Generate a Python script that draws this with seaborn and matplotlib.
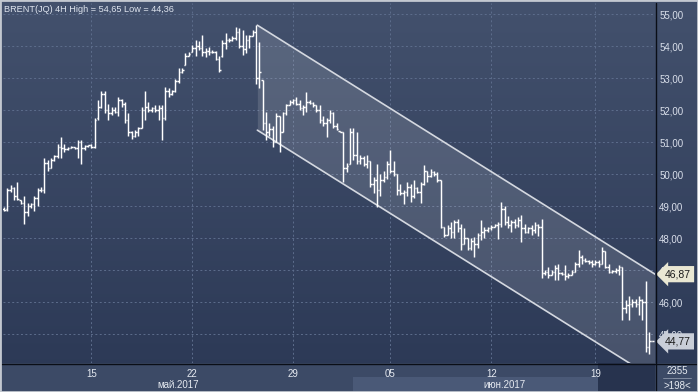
import matplotlib
matplotlib.use("Agg")
import matplotlib.pyplot as plt
import numpy as np
import pandas as pd
import seaborn as sns
from matplotlib.patches import Rectangle
from matplotlib.transforms import blended_transform_factory

# 4H bars, Brent, mid May - late June 2017
bar_open = [
    48.90, 48.90, 49.50, 49.55, 49.30, 49.20, 49.10, 48.80, 49.00, 49.05,
    49.25, 49.50, 49.50, 50.35, 50.20, 50.45, 50.55, 50.85, 50.80, 50.78,
    50.82, 50.85, 50.80, 51.00, 50.80, 50.88, 50.90, 50.85, 51.75, 52.10,
    52.50, 52.00, 51.90, 52.00, 51.95, 52.30, 52.20, 51.70, 51.30, 51.20,
    51.30, 51.45, 52.00, 52.10, 52.00, 52.05, 52.00, 52.05, 51.75, 52.60,
    52.50, 52.58, 52.90, 53.20, 53.40, 53.70, 53.80, 53.95, 54.00, 53.95,
    53.80, 53.85, 53.80, 53.82, 53.60, 53.70, 54.10, 54.20, 54.18, 54.25,
    54.45, 54.00, 53.90, 54.20, 54.30, 54.45, 53.00, 52.95, 51.60, 51.30,
    51.40, 51.00, 51.80, 51.30, 51.90, 52.15, 52.25, 52.30, 52.20, 52.05,
    52.10, 52.25, 52.22, 52.15, 52.00, 51.70, 51.60, 51.70, 51.90, 51.50,
    51.35, 51.32, 50.20, 50.30, 51.30, 50.60, 50.40, 50.50, 50.30, 50.40,
    49.70, 49.80, 49.50, 49.80, 49.90, 50.30, 50.10, 50.00, 49.50, 49.40,
    49.45, 49.60, 49.30, 49.55, 49.45, 49.70, 50.10, 49.95, 50.05, 50.00,
    49.80, 48.35, 48.10, 48.30, 48.20, 48.50, 48.30, 47.80, 48.00, 47.70,
    47.90, 47.80, 48.10, 48.20, 48.25, 48.30, 48.35, 48.40, 48.45, 48.90,
    48.50, 48.40, 48.50, 48.40, 48.55, 48.30, 48.20, 48.30, 48.25, 48.40,
    48.35, 46.90, 46.95, 46.85, 46.95, 47.05, 46.90, 46.88, 46.80, 46.85,
    46.95, 47.20, 47.40, 47.30, 47.28, 47.25, 47.20, 47.25, 47.20, 47.60,
    47.10, 46.95, 46.98, 47.00, 47.10, 45.80, 45.90, 45.95, 46.00, 45.95,
    46.05, 46.00, 44.60, 44.77,
]
bar_high = [
    48.98, 49.55, 49.65, 49.60, 49.75, 49.20, 49.30, 49.10, 49.10, 49.30,
    49.55, 49.60, 50.50, 50.45, 50.50, 50.60, 50.95, 51.15, 50.95, 50.85,
    50.88, 50.85, 51.05, 51.05, 50.90, 50.92, 50.95, 51.75, 52.30, 52.60,
    52.60, 52.20, 52.10, 52.10, 52.40, 52.35, 52.25, 51.90, 51.35, 51.37,
    51.48, 52.10, 52.60, 52.25, 52.10, 52.15, 52.15, 52.15, 52.73, 52.68,
    52.62, 52.96, 53.30, 53.30, 53.77, 53.80, 54.03, 54.20, 54.15, 54.35,
    53.93, 53.98, 53.88, 53.83, 53.70, 54.20, 54.40, 54.24, 54.30, 54.60,
    54.55, 54.50, 54.35, 54.35, 54.50, 54.65, 54.13, 52.95, 51.95, 51.58,
    51.50, 51.90, 51.80, 51.95, 52.20, 52.30, 52.35, 52.40, 52.30, 52.15,
    52.57, 52.30, 52.25, 52.15, 52.15, 51.80, 51.74, 52.00, 51.95, 51.60,
    51.35, 51.32, 50.33, 51.43, 51.43, 51.30, 50.60, 50.55, 50.60, 50.40,
    49.90, 50.30, 50.00, 50.10, 50.40, 50.75, 50.40, 50.00, 49.70, 49.50,
    49.75, 49.70, 49.80, 49.60, 49.75, 50.28, 50.10, 50.15, 50.10, 50.05,
    49.81, 48.35, 48.40, 48.50, 48.55, 48.60, 48.45, 48.30, 48.00, 48.00,
    48.04, 48.15, 48.56, 48.35, 48.35, 48.40, 48.45, 48.50, 49.14, 49.00,
    48.70, 48.55, 48.60, 48.65, 48.72, 48.45, 48.35, 48.40, 48.50, 48.45,
    48.60, 47.00, 47.10, 47.00, 47.15, 47.20, 46.95, 47.15, 46.90, 47.00,
    47.25, 47.63, 47.47, 47.37, 47.32, 47.30, 47.32, 47.30, 47.73, 47.60,
    47.20, 47.00, 47.05, 47.17, 47.10, 46.05, 46.18, 46.10, 46.10, 46.18,
    46.10, 46.65, 45.05, 44.77,
]
bar_low = [
    48.85, 48.85, 49.45, 49.20, 49.20, 49.05, 48.45, 48.70, 48.95, 48.85,
    49.00, 49.45, 49.40, 50.10, 50.20, 50.40, 50.50, 50.50, 50.70, 50.75,
    50.80, 50.78, 50.50, 50.30, 50.75, 50.85, 50.80, 50.80, 51.70, 52.05,
    51.90, 51.70, 51.85, 51.90, 51.80, 52.10, 51.60, 51.20, 51.10, 51.15,
    51.20, 51.43, 51.70, 51.95, 51.95, 51.95, 51.70, 51.06, 51.70, 52.42,
    52.48, 52.57, 52.83, 53.15, 53.40, 53.70, 53.80, 53.70, 53.88, 53.70,
    53.67, 53.72, 53.78, 53.57, 53.20, 53.67, 53.90, 54.14, 54.15, 54.20,
    53.93, 53.72, 53.78, 53.93, 54.30, 52.80, 52.70, 51.37, 51.06, 51.20,
    50.85, 51.00, 50.70, 51.30, 51.85, 52.15, 52.20, 52.15, 52.00, 51.85,
    51.95, 52.20, 52.10, 51.95, 51.60, 51.50, 51.17, 51.60, 51.45, 51.37,
    51.30, 49.76, 50.05, 50.30, 50.44, 50.30, 50.30, 50.25, 50.20, 49.60,
    49.40, 48.98, 49.30, 49.75, 49.85, 50.02, 49.95, 49.34, 49.34, 49.05,
    49.30, 49.14, 49.25, 49.40, 49.10, 49.66, 49.76, 49.92, 49.95, 49.75,
    48.30, 48.04, 48.10, 48.00, 48.00, 48.20, 47.63, 47.80, 47.63, 47.63,
    47.42, 47.70, 47.94, 48.00, 48.20, 48.25, 48.35, 47.97, 48.35, 48.40,
    48.30, 48.20, 48.30, 48.35, 47.89, 48.15, 48.15, 48.10, 48.15, 48.05,
    46.74, 46.85, 46.75, 46.85, 46.70, 46.70, 46.85, 46.70, 46.75, 46.85,
    46.95, 47.10, 47.20, 47.25, 47.20, 47.10, 47.15, 47.10, 47.20, 47.05,
    46.90, 46.90, 46.90, 46.85, 45.45, 45.66, 45.45, 45.85, 45.85, 45.60,
    45.45, 44.45, 44.36, 44.77,
]
bar_close = [
    48.88, 49.50, 49.55, 49.30, 49.22, 49.10, 48.80, 49.00, 49.05, 49.25,
    49.50, 49.50, 50.35, 50.20, 50.45, 50.55, 50.85, 50.80, 50.78, 50.82,
    50.85, 50.80, 51.00, 50.80, 50.88, 50.90, 50.85, 51.70, 52.10, 52.50,
    52.00, 51.90, 52.00, 51.95, 52.30, 52.20, 51.70, 51.30, 51.20, 51.30,
    51.45, 52.00, 52.10, 52.00, 52.05, 52.00, 52.05, 51.75, 52.60, 52.50,
    52.58, 52.90, 53.20, 53.25, 53.70, 53.75, 53.95, 54.00, 53.95, 53.80,
    53.85, 53.80, 53.82, 53.60, 53.25, 54.10, 54.20, 54.18, 54.25, 54.45,
    54.00, 53.90, 54.20, 54.30, 54.45, 53.00, 53.20, 51.60, 51.30, 51.40,
    51.00, 51.80, 51.30, 51.90, 52.15, 52.25, 52.30, 52.20, 52.05, 52.10,
    52.25, 52.22, 52.15, 52.00, 51.70, 51.60, 51.70, 51.90, 51.50, 51.40,
    51.32, 50.20, 50.25, 51.30, 50.60, 50.40, 50.50, 50.30, 50.40, 49.70,
    49.80, 49.50, 49.80, 49.90, 50.30, 50.10, 50.00, 49.50, 49.40, 49.45,
    49.60, 49.30, 49.55, 49.45, 49.70, 50.10, 49.95, 50.05, 50.00, 49.80,
    48.35, 48.10, 48.30, 48.20, 48.50, 48.30, 47.80, 48.00, 47.70, 47.90,
    47.80, 48.10, 48.20, 48.25, 48.30, 48.35, 48.40, 48.45, 48.90, 48.50,
    48.40, 48.50, 48.40, 48.55, 48.30, 48.20, 48.30, 48.25, 48.40, 48.35,
    46.90, 46.95, 46.85, 46.95, 47.05, 46.90, 46.88, 46.80, 46.85, 46.95,
    47.20, 47.40, 47.30, 47.28, 47.25, 47.20, 47.25, 47.20, 47.60, 47.10,
    46.95, 46.98, 47.00, 47.10, 45.80, 45.90, 45.95, 46.00, 45.95, 46.05,
    46.00, 44.60, 44.77, 44.77,
]

date_tick_bars = [26, 56, 86, 115, 145, 176]
date_tick_labels = ["15", "22", "29", "05", "12", "19"]
month_labels = ["май.2017", "июн.2017"]
month_start_bars = [-0.3, 104]

# descending channel drawn on the chart
channel_bars = [75.4, 193.75]
channel_upper = [54.65, 46.87]
channel_width = 3.28

last_price = 44.77
title = "BRENT(JQ) 4H High = 54,65 Low = 44,36"

W, H = 698, 392
BG_TOP = "#43516d"
BG_BOT = "#2b3855"
STRIP = "#3c4a66"


def fx(px):
    return px / W


def fy(py):
    return 1 - py / H


def price_fmt(v):
    return f"{v:.2f}".replace(".", ",")


sns.set_theme(style="dark")
plt.rcParams["font.family"] = ["Liberation Sans", "DejaVu Sans"]

df = pd.DataFrame({"open": bar_open, "high": bar_high, "low": bar_low, "close": bar_close})
df["bar"] = np.arange(len(df))

fig = plt.figure(figsize=(W / 100, H / 100), dpi=100)
fig.patch.set_facecolor(STRIP)

# gradient backdrop for the whole picture
bg = fig.add_axes([0, 0, 1, 1], zorder=-5)
grad = np.linspace(0, 1, 256)[:, None]
cmap = matplotlib.colors.LinearSegmentedColormap.from_list("bg", [BG_TOP, BG_BOT])
bg.imshow(grad, aspect="auto", cmap=cmap, extent=[0, 1, 0, 1])
bg.set_axis_off()

ax = fig.add_axes([fx(3), fy(363), fx(652), 360 / H])
ax.set_facecolor("none")
x_lo, x_hi = -0.3, 193.75
y_lo, y_hi = 44.094, 55.344
ax.set_xlim(x_lo, x_hi)
ax.set_ylim(y_lo, y_hi)

# grid
grid_kw = dict(color="#5d6d8c", lw=0.7, dashes=(2, 2.5), zorder=1)
for v in range(45, 56):
    ax.axhline(v, **grid_kw)
for b in date_tick_bars:
    ax.axvline(b, **grid_kw)

# channel
x0, x1 = channel_bars
u0, u1 = channel_upper
ax.fill_between([x0, x1], [u0, u1], [u0 - channel_width, u1 - channel_width],
                color="white", alpha=0.13, lw=0, zorder=2)
chan = pd.DataFrame({"bar": [x0, x1, x0, x1],
                     "price": [u0, u1, u0 - channel_width, u1 - channel_width],
                     "edge": ["up", "up", "low", "low"]})
sns.lineplot(data=chan, x="bar", y="price", units="edge", estimator=None,
             color="#d4d8e0", lw=1.2, ax=ax, zorder=3)

# OHLC bars
ax.vlines(df["bar"], df["low"], df["high"], color="white", lw=1.05, zorder=4)
ax.hlines(df["open"], df["bar"] - 0.45, df["bar"], color="white", lw=1.05, zorder=4)
ax.hlines(df["close"], df["bar"], df["bar"] + 0.45, color="white", lw=1.05, zorder=4)

ax.set_xlabel("")
ax.set_ylabel("")
for s in ax.spines.values():
    s.set_visible(False)

# right price axis
ax.yaxis.tick_right()
ax.set_yticks(range(45, 56))
ax.set_yticklabels([price_fmt(v) for v in range(45, 56)])
ax.tick_params(axis="y", length=0, pad=3, labelsize=7, labelcolor="#d9dfea")

# date axis
ax.set_xticks(date_tick_bars)
ax.set_xticklabels(date_tick_labels)
ax.tick_params(axis="x", length=0, pad=4, labelsize=7, labelcolor="#e6eaf1")

# bottom strip
tr_strip = blended_transform_factory(ax.transData, fig.transFigure)
fig.patches.append(Rectangle((0, fy(392)), 1, (392 - 363) / H, transform=fig.transFigure,
                             fc=STRIP, ec="none", zorder=-1))
june_end = 176.8
ax.add_patch(Rectangle((month_start_bars[1], fy(392)), june_end - month_start_bars[1], 15 / H,
                       transform=tr_strip, fc="#4a5977", ec="none", clip_on=False, zorder=0))
ax.add_patch(Rectangle((june_end, fy(392)), x_hi - june_end, 29 / H,
                       transform=tr_strip, fc="#27334e", ec="none", clip_on=False, zorder=0))
ends = month_start_bars[1:] + [x_hi]
for lab, s, e in zip(month_labels, month_start_bars, ends):
    ax.text((s + e) / 2, fy(385), lab, transform=tr_strip, ha="center", va="center",
            fontsize=7, color="#e6eaf1", clip_on=False)

# axis borders
fig.add_artist(plt.Line2D([0, 1], [fy(363.5)] * 2, color="#0a0e17", lw=1.0))
fig.add_artist(plt.Line2D([fx(655.5)] * 2, [0, fy(3)], color="#0a0e17", lw=1.0))

# bottom-right counter
fig.text(fx(677), fy(371), "2355", ha="center", va="center", fontsize=7, color="#e6eaf1")
fig.text(fx(677), fy(386), ">198<", ha="center", va="center", fontsize=7, color="#e6eaf1")
fig.add_artist(plt.Line2D([fx(663), fx(691)], [fy(378)] * 2, color="#8c96aa", lw=0.6))

# price markers (they cover the 47,00 / 45,00 labels, as on the original)
tr_price = blended_transform_factory(ax.transAxes, ax.transData)
marker_x = 1.0 + 10 / 652
ax.text(marker_x, channel_upper[1], price_fmt(channel_upper[1]), transform=tr_price,
        ha="left", va="center", fontsize=7.5, color="#1b1b1b", clip_on=False, zorder=10,
        bbox=dict(boxstyle="larrow,pad=0.3", fc="#e9e7d3", ec="none"))
ax.text(marker_x, last_price, price_fmt(last_price), transform=tr_price,
        ha="left", va="center", fontsize=7.5, color="#1b1b1b", clip_on=False, zorder=10,
        bbox=dict(boxstyle="larrow,pad=0.3", fc="#c9ced8", ec="none"))

# title
fig.text(fx(4), fy(9), title, ha="left", va="center", fontsize=6.6, color="#dfe5ef")

# outer frame
fig.patches.append(Rectangle((0, 0), 1, 1, transform=fig.transFigure, fill=False,
                             ec="#c3c8d0", lw=2.0, zorder=20))

fig.savefig("out.png", dpi=100, facecolor=fig.get_facecolor())
